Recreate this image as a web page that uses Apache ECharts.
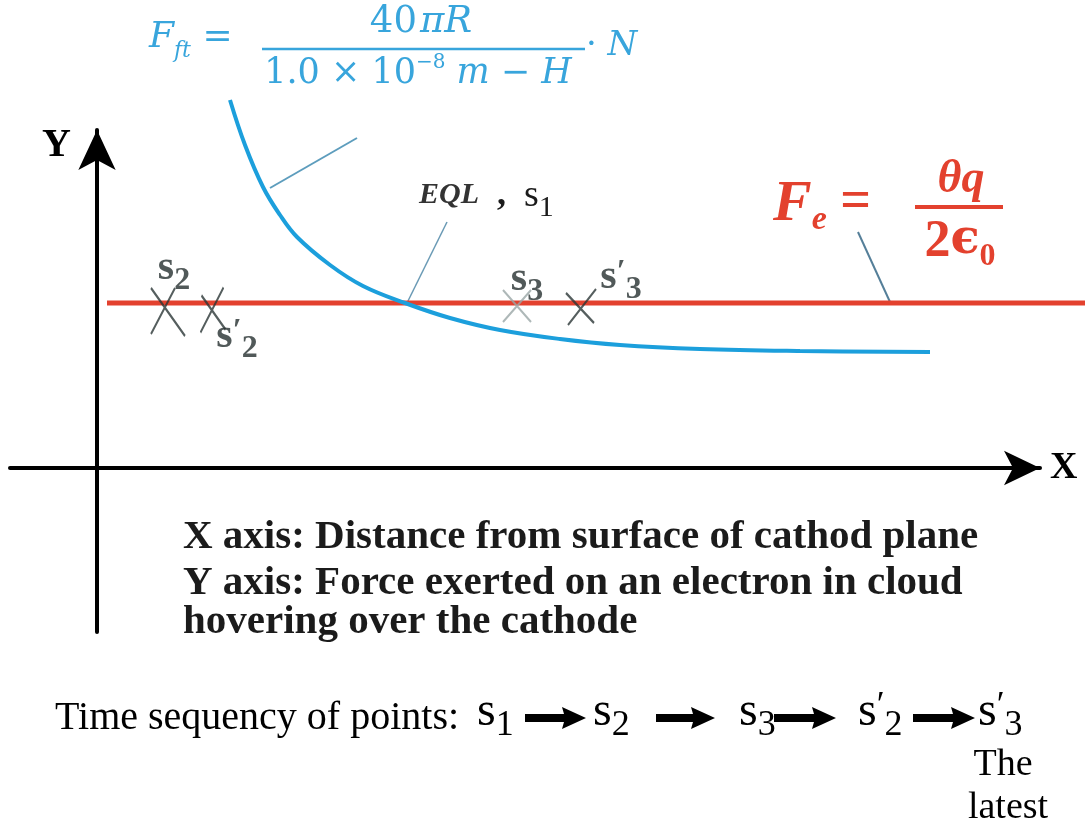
<!DOCTYPE html>
<html>
<head>
<meta charset="utf-8">
<title>EQL force diagram</title>
<script src="https://cdn.jsdelivr.net/npm/echarts@6/dist/echarts.min.js"></script>
<style>
html, body { margin: 0; padding: 0; background: #fff; }
#main { width: 1088px; height: 820px; }
</style>
</head>
<body>
<div id="main"></div>
<script>
// values (1 unit = 100 px, origin where the axes cross)
var curveX = [1.33, 1.48, 1.66, 1.83, 2.00, 2.33, 2.66, 3.08, 3.53, 4.03, 4.63, 5.23, 6.03, 7.03, 8.33];
var curveY = [3.68, 3.23, 2.81, 2.53, 2.31, 2.03, 1.82, 1.65, 1.50, 1.38, 1.29, 1.23, 1.19, 1.17, 1.16];
var fieldX = [0.10, 9.88];
var fieldY = [1.65, 1.65];
var pointNames = ['s2', "s'2", 's3', "s'3"];
var pointX = [0.71, 1.16, 4.20, 4.84];
var pointY = [1.56, 1.58, 1.62, 1.61];
var sequence = ['s1', 's2', 's3', "s'2", "s'3"];

var SERIF = "'Liberation Serif', 'DejaVu Serif', serif";
var MATH = "'DejaVu Serif', serif";
var BLUE = '#38a5dc';
var RED = '#e3412e';
var INK = '#1b1b1b';

var chart = echarts.init(document.getElementById('main'));

// 's2' -> rich tokens  s + (prime) + subscript
function sName(name){
	var sub = name.charAt(name.length - 1);
	var prime = name.indexOf("'") >= 0 ? '{p|′}' : '';
	return '{b|s}' + prime + '{d|' + sub + '}';
}
function sRich(size, subSize, weight, color, useFill){
	var key = useFill ? 'fill' : 'color';
	var b = {fontSize: size, lineHeight: size + 4, verticalAlign: 'top', fontFamily: SERIF, fontWeight: weight};
	var d = {fontSize: subSize, lineHeight: subSize, padding: [Math.round(size * 0.42), 0, 0, 0], verticalAlign: 'top', fontFamily: SERIF, fontWeight: weight};
	var p = {fontSize: subSize, lineHeight: subSize, padding: [Math.round(size * 0.02), 0, 0, 0], verticalAlign: 'top', fontFamily: SERIF, fontWeight: weight};
	b[key] = color; d[key] = color; p[key] = color;
	return {b: b, d: d, p: p};
}

// shape of each cross mark
var crossLook = {
	's2':  {path: 'path://M0,0L34,48M24,0L0,46', size: [34, 48], color: '#2a3636', offset: [6, -42]},
	"s'2": {path: 'path://M23,0L0,45M1,8L25,42', size: [25, 45], color: '#2a3636', offset: [24, 28]},
	's3':  {path: 'path://M0,0L28,32M28,0L0,32', size: [28, 32], color: '#9aa6a6', offset: [10, -25]},
	"s'3": {path: 'path://M30,0L2,36M0,4L28,34', size: [30, 36], color: '#2a3636', offset: [40, -28]}
};

var curveData = [];
for (var i = 0; i < curveX.length; i++) curveData.push([curveX[i], curveY[i]]);
var fieldData = [];
for (var i = 0; i < fieldX.length; i++) fieldData.push([fieldX[i], fieldY[i]]);
var crossData = [];
for (var i = 0; i < pointNames.length; i++){
	var look = crossLook[pointNames[i]];
	crossData.push({
		name: pointNames[i],
		value: [pointX[i], pointY[i]],
		symbol: look.path,
		symbolSize: look.size,
		itemStyle: {color: 'none', borderColor: look.color, borderWidth: 2.2},
		label: {offset: look.offset}
	});
}

function text(x, y, str, style){
	return {type: 'text', x: x, y: y, silent: true, style: echarts.util.extend({text: str, verticalAlign: 'middle'}, style)};
}
function line(x1, y1, x2, y2, color, width){
	return {type: 'line', silent: true, shape: {x1: x1, y1: y1, x2: x2, y2: y2}, style: {stroke: color, lineWidth: width}};
}
function arrow(x1, x2, y){
	return {type: 'polygon', silent: true, shape: {points: [[x1, y - 4], [x2 - 22, y - 4], [x2 - 24, y - 11], [x2, y], [x2 - 24, y + 11], [x2 - 22, y + 4], [x1, y + 4]]}, style: {fill: '#000'}};
}

var graphics = [];
// blue formula
graphics.push(text(149, 40, '{F|F}{s|ft}{e| =}', {rich: {
	F: {fontSize: 36, fontStyle: 'italic', fontFamily: MATH, fill: BLUE, lineHeight: 40, verticalAlign: 'top'},
	s: {fontSize: 22, fontStyle: 'italic', fontFamily: MATH, fill: BLUE, lineHeight: 22, padding: [20, 0, 0, 0], verticalAlign: 'top'},
	e: {fontSize: 36, fontFamily: MATH, fill: BLUE, lineHeight: 40, verticalAlign: 'top'}
}}));
graphics.push(text(421, 22, '{n|40}{i|πR}', {align: 'center', rich: {
	n: {fontSize: 37, fontFamily: MATH, fill: BLUE, padding: [0, 3, 0, 0]},
	i: {fontSize: 37, fontStyle: 'italic', fontFamily: MATH, fill: BLUE}
}}));
graphics.push(line(262, 49, 585, 49, BLUE, 2.5));
graphics.push(text(418, 72, '{n|1.0 × 10}{u|−8}{i| m}{n| − }{i|H}', {align: 'center', rich: {
	n: {fontSize: 35, fontFamily: MATH, fill: BLUE, lineHeight: 38, verticalAlign: 'bottom'},
	u: {fontSize: 20, fontFamily: MATH, fill: BLUE, lineHeight: 20, padding: [0, 0, 18, 0], verticalAlign: 'bottom'},
	i: {fontSize: 35, fontStyle: 'italic', fontFamily: MATH, fill: BLUE, lineHeight: 38, verticalAlign: 'bottom'}
}}));
graphics.push(text(586, 46, '{n|·}{i| N}', {rich: {
	n: {fontSize: 34, fontFamily: MATH, fill: BLUE},
	i: {fontSize: 34, fontStyle: 'italic', fontFamily: MATH, fill: BLUE}
}}));
graphics.push(line(270, 188, 357, 138, '#5d9dbd', 2));

// red formula
graphics.push(text(773, 205, '{F|F}{s|e}{e| = }', {rich: {
	F: {fontSize: 58, fontStyle: 'italic', fontWeight: 'bold', fontFamily: SERIF, fill: RED, lineHeight: 58, verticalAlign: 'top'},
	s: {fontSize: 34, fontStyle: 'italic', fontWeight: 'bold', fontFamily: SERIF, fill: RED, lineHeight: 34, padding: [27, 0, 0, 0], verticalAlign: 'top'},
	e: {fontSize: 54, fontWeight: 'bold', fontFamily: SERIF, fill: RED, lineHeight: 58, verticalAlign: 'top'}
}}));
graphics.push(text(961, 180, 'θq', {align: 'center', fontSize: 46, fontStyle: 'italic', fontWeight: 'bold', fontFamily: SERIF, fill: RED}));
graphics.push(line(915, 207, 1003, 207, RED, 4));
graphics.push(text(960, 244, '{n|2}{i|ϵ}{d|0}', {align: 'center', rich: {
	n: {fontSize: 52, fontWeight: 'bold', fontFamily: SERIF, fill: RED, lineHeight: 54, verticalAlign: 'top'},
	i: {fontSize: 48, fontWeight: 'bold', fontFamily: MATH, fill: RED, lineHeight: 54, verticalAlign: 'top'},
	d: {fontSize: 32, fontWeight: 'bold', fontFamily: SERIF, fill: RED, lineHeight: 32, padding: [24, 0, 0, 0], verticalAlign: 'top'}
}}));
graphics.push(line(858, 232, 890, 302, '#557f99', 2));

// EQL label
var eqlRich = sRich(38, 30, 'normal', INK, true);
eqlRich.q = {fontSize: 30, fontStyle: 'italic', fontWeight: 'bold', fontFamily: SERIF, fill: '#333', lineHeight: 42, verticalAlign: 'top', padding: [3, 0, 0, 0]};
eqlRich.c = {fontSize: 36, fontWeight: 'bold', fontFamily: SERIF, fill: INK, lineHeight: 42, verticalAlign: 'top'};
graphics.push(text(419, 198, '{q|EQL}{c|  ,  }' + sName('s1'), {rich: eqlRich}));
graphics.push(line(447, 222, 407, 303, '#6a9ab5', 1.5));

// axis name Y
graphics.push(text(42, 146, 'Y', {fontSize: 40, fontWeight: 'bold', fontFamily: SERIF, fill: '#000'}));

// captions
var capStyle = {fontSize: 41, fontWeight: 'bold', fontFamily: SERIF, fill: INK};
graphics.push(text(183, 537, 'X axis: Distance from surface of cathod plane', capStyle));
graphics.push(text(183, 583, 'Y axis: Force exerted on an electron in cloud', capStyle));
graphics.push(text(183, 622, 'hovering over the cathode', capStyle));

// time sequence row
graphics.push(text(55, 718, 'Time sequency of points:', {fontSize: 40, fontFamily: SERIF, fill: '#000'}));
var seqLeft = [477, 593, 739, 858, 978];
var seqArrows = [[525, 586], [656, 715], [774, 836], [913, 975]];
for (var i = 0; i < sequence.length; i++){
	graphics.push(text(seqLeft[i], 714, sName(sequence[i]), {rich: sRich(48, 36, 'normal', '#000', true)}));
}
for (var i = 0; i < seqArrows.length; i++){
	graphics.push(arrow(seqArrows[i][0], seqArrows[i][1], 718));
}
graphics.push(text(1003, 765, 'The', {align: 'center', fontSize: 38, fontFamily: SERIF, fill: '#000'}));
graphics.push(text(1008, 808, 'latest', {align: 'center', fontSize: 38, fontFamily: SERIF, fill: '#000'}));

var hidden = {axisLine: {show: false}, axisTick: {show: false}, axisLabel: {show: false}, splitLine: {show: false}};

var option = {
	animation: false,
	backgroundColor: '#fff',
	// grid 0: the drawn axes, grid 1: same scale, wider, for the marks
	grid: [
		{left: 10, right: 48, top: 130, bottom: 188},
		{left: 10, right: 0, top: 0, bottom: 188}
	],
	xAxis: [
		{
			gridIndex: 0, type: 'value', min: -0.87, max: 9.43,
			name: 'X', nameLocation: 'end', nameGap: 10,
			nameTextStyle: {fontSize: 38, fontWeight: 'bold', fontFamily: SERIF, color: '#000', verticalAlign: 'middle'},
			axisLine: {onZero: true, symbol: ['none', 'arrow'], symbolSize: [26, 36], lineStyle: {color: '#000', width: 4}},
			axisTick: {show: false}, axisLabel: {show: false}, splitLine: {show: false}
		},
		echarts.util.extend({gridIndex: 1, type: 'value', min: -0.87, max: 9.91}, hidden)
	],
	yAxis: [
		{
			gridIndex: 0, type: 'value', min: -1.64, max: 3.38,
			axisLine: {onZero: true, symbol: ['none', 'arrow'], symbolSize: [28, 40], lineStyle: {color: '#000', width: 4}},
			axisTick: {show: false}, axisLabel: {show: false}, splitLine: {show: false}
		},
		echarts.util.extend({gridIndex: 1, type: 'value', min: -1.64, max: 4.68}, hidden)
	],
	series: [
		{
			name: 'F_e', type: 'line', xAxisIndex: 1, yAxisIndex: 1, data: fieldData, showSymbol: false, z: 2,
			lineStyle: {color: RED, width: 5}
		},
		{
			name: 'F_ft', type: 'line', xAxisIndex: 1, yAxisIndex: 1, data: curveData, smooth: 0.4, showSymbol: false, z: 3,
			lineStyle: {color: '#1c9fdc', width: 4}
		},
		{
			name: 'points', type: 'scatter', xAxisIndex: 1, yAxisIndex: 1, data: crossData, z: 4,
			label: {
				show: true, position: 'inside',
				formatter: function(p){ return sName(p.name); },
				rich: sRich(42, 32, 'bold', '#263030', false)
			}
		}
	],
	graphic: graphics
};
chart.setOption(option);
</script>
</body>
</html>
